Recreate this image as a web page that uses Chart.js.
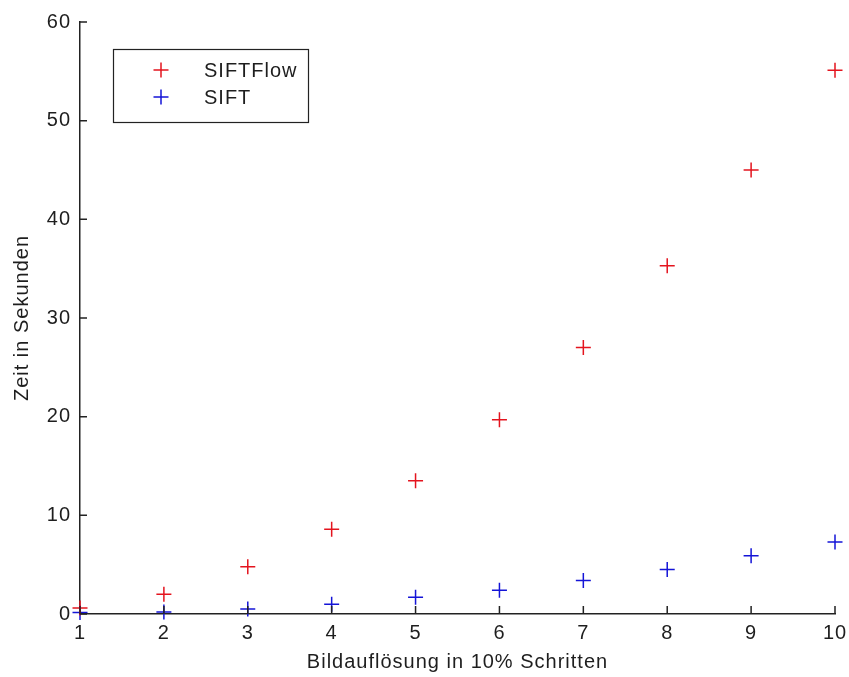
<!DOCTYPE html>
<html>
<head>
<meta charset="utf-8">
<script src="https://cdn.jsdelivr.net/npm/chart.js@4"></script>
<style>
  html, body { margin: 0; padding: 0; background: #fff; }
  #wrap { width: 849px; height: 677px; }
</style>
</head>
<body>
<div id="wrap"><canvas id="plot" width="849" height="677"></canvas></div>
<script>
// --- Data ---
const steps = [1, 2, 3, 4, 5, 6, 7, 8, 9, 10];
const siftFlowTimes = [0.6, 2.0, 4.8, 8.6, 13.5, 19.7, 27.0, 35.3, 45.0, 55.1];
const siftTimes = [0.15, 0.2, 0.5, 1.0, 1.7, 2.4, 3.4, 4.5, 5.9, 7.3];
const seriesNames = ['SIFTFlow', 'SIFT'];
const seriesColors = ['rgb(228, 20, 30)', 'rgb(20, 20, 215)'];
const yTicks = [0, 10, 20, 30, 40, 50, 60];

const fontFamily = '"Liberation Sans", Arial, sans-serif';
const fontSize = 20;
const textColor = '#1e1e1e';

function toPoints(values) {
    return steps.map((x, i) => ({ x: x, y: values[i] }));
}

// the original text is set a bit loose
const looseText = {
    id: 'looseText',
    beforeLayout(chart) { chart.ctx.letterSpacing = '1px'; },
    beforeDraw(chart) { chart.ctx.letterSpacing = '1px'; }
};

// ticks pointing into the plot, like the original
const innerTicks = {
    id: 'innerTicks',
    afterDatasetsDraw(chart) {
        const { ctx, chartArea, scales } = chart;
        ctx.save();
        ctx.strokeStyle = '#222';
        ctx.lineWidth = 1.5;
        ctx.beginPath();
        steps.forEach(v => {
            const x = scales.x.getPixelForValue(v);
            ctx.moveTo(x, chartArea.bottom);
            ctx.lineTo(x, chartArea.bottom - 8);
        });
        yTicks.forEach(v => {
            const y = scales.y.getPixelForValue(v);
            ctx.moveTo(chartArea.left, y);
            ctx.lineTo(chartArea.left + 7, y);
        });
        ctx.stroke();
        ctx.restore();
    }
};

// boxed legend inside the upper left corner
const boxLegend = {
    id: 'boxLegend',
    afterDraw(chart) {
        const { ctx } = chart;
        const box = { x: 113, y: 49, w: 195, h: 73 };
        ctx.save();
        ctx.fillStyle = '#fff';
        ctx.fillRect(box.x, box.y, box.w, box.h);
        ctx.strokeStyle = '#222';
        ctx.lineWidth = 1.2;
        ctx.strokeRect(box.x + 0.5, box.y + 0.5, box.w, box.h);
        ctx.font = fontSize + 'px ' + fontFamily;
        ctx.textBaseline = 'middle';
        chart.data.datasets.forEach((ds, i) => {
            const cy = box.y + 21 + i * 27;
            const cx = box.x + 48;
            ctx.strokeStyle = ds.borderColor;
            ctx.lineWidth = 1.5;
            ctx.beginPath();
            ctx.moveTo(cx - 7.5, cy);
            ctx.lineTo(cx + 7.5, cy);
            ctx.moveTo(cx, cy - 7.5);
            ctx.lineTo(cx, cy + 7.5);
            ctx.stroke();
            ctx.fillStyle = textColor;
            ctx.fillText(ds.label, box.x + 91, cy + 1);
        });
        ctx.restore();
    }
};

const datasets = [siftFlowTimes, siftTimes].map((values, i) => ({
    label: seriesNames[i],
    data: toPoints(values),
    showLine: false,
    clip: false,
    pointStyle: 'cross',
    pointRadius: 7.5,
    pointHoverRadius: 7.5,
    borderWidth: 1.5,
    pointBorderWidth: 1.5,
    borderColor: seriesColors[i],
    backgroundColor: seriesColors[i]
}));

new Chart(document.getElementById('plot').getContext('2d'), {
    type: 'scatter',
    data: { datasets: datasets },
    plugins: [looseText, innerTicks, boxLegend],
    options: {
        responsive: false,
        animation: false,
        layout: { padding: { top: 22, right: 14, bottom: 0, left: 0 } },
        plugins: {
            legend: { display: false },
            tooltip: { enabled: false }
        },
        scales: {
            x: {
                type: 'linear',
                min: 1,
                max: 10,
                afterFit(scale) {
                    scale.height = 63;
                    scale.paddingLeft = 0;
                    scale.paddingRight = 0;
                },
                afterBuildTicks(scale) { scale.ticks = steps.map(v => ({ value: v })); },
                grid: { display: true, drawOnChartArea: false, drawTicks: false },
                border: { display: true, color: '#222', width: 1.5 },
                ticks: {
                    padding: 7,
                    color: textColor,
                    font: { family: fontFamily, size: fontSize },
                    maxRotation: 0
                },
                title: {
                    display: true,
                    text: 'Bildauflösung in 10% Schritten',
                    color: textColor,
                    font: { family: fontFamily, size: fontSize },
                    padding: { top: 0, bottom: 3 }
                }
            },
            y: {
                type: 'linear',
                min: 0,
                max: 60,
                afterFit(scale) {
                    scale.width = 80;
                    scale.paddingTop = 0;
                    scale.paddingBottom = 0;
                },
                afterBuildTicks(scale) { scale.ticks = yTicks.map(v => ({ value: v })); },
                grid: { display: true, drawOnChartArea: false, drawTicks: false },
                border: { display: true, color: '#222', width: 1.5 },
                ticks: {
                    padding: 9,
                    color: textColor,
                    font: { family: fontFamily, size: fontSize }
                },
                title: {
                    display: true,
                    text: 'Zeit in Sekunden',
                    color: textColor,
                    font: { family: fontFamily, size: fontSize },
                    padding: { top: 10, bottom: 0 }
                }
            }
        }
    }
});
</script>
</body>
</html>
